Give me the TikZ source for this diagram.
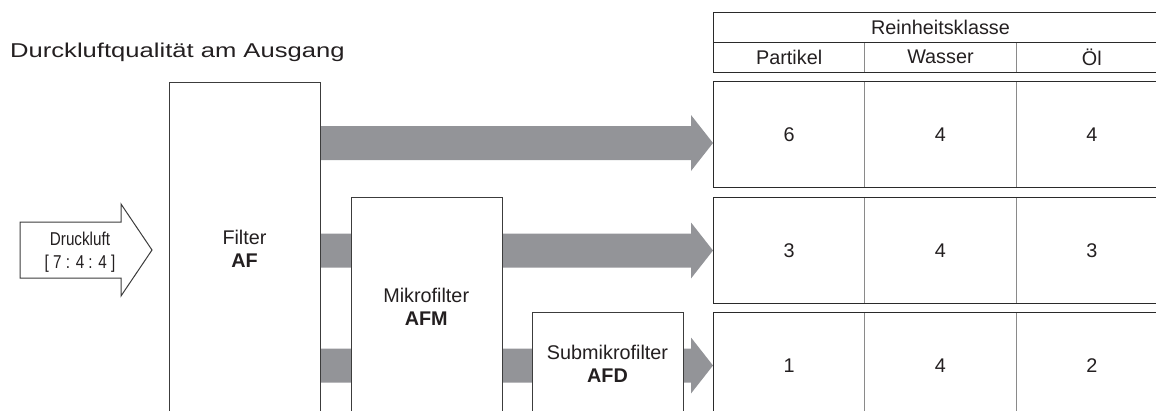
\documentclass[tikz,border=0pt]{standalone}
\usepackage{fontspec}
\setmainfont{Liberation Sans}
\usetikzlibrary{calc,backgrounds}
\definecolor{flowgray}{HTML}{939498}
\definecolor{boxline}{HTML}{3C3C3C}
\definecolor{cellline}{HTML}{8A8A8A}
\definecolor{outline}{HTML}{2A2A2A}
\definecolor{ink}{HTML}{231F20}
\tikzset{
  box/.style={draw=boxline, line width=1.1pt, fill=white, anchor=north west, inner sep=0pt},
  flow/.style={fill=flowgray, draw=none},
  txt/.style={font=\fontsize{19.8}{23}\selectfont, text=ink, align=center, inner sep=0pt, anchor=base},
  cell/.style={draw=cellline, line width=1pt, anchor=north west, inner sep=0pt, minimum width=151.3pt,
    font=\fontsize{19.8}{23}\selectfont, text=ink},
  rowframe/.style={draw=outline, line width=1.2pt, anchor=north west, inner sep=0pt, minimum width=454pt},
  inarrow/.style={draw=boxline, line width=1pt, fill=white, line join=miter},
}
\newcommand\flowarrow[2]{%
  \fill[flow] ($(#1)+(0,-17)$) -- ($(#2)+(-22,-17)$) -- ($(#2)+(-22,-28)$) -- (#2)
    -- ($(#2)+(-22,28)$) -- ($(#2)+(-22,17)$) -- ($(#1)+(0,17)$) -- cycle;}
\begin{document}
\begin{tikzpicture}[x=1pt,y=-1pt]
\useasboundingbox (0,0) rectangle (1156,410);
\clip (0,0) rectangle (1156,410);

% title
\node[anchor=base west, inner sep=0pt, font=\fontsize{20}{23}\selectfont, text=ink] (title) at (10,57)
  {\scalebox{1.28}[1]{Durckluftqualität am Ausgang}};

% filter boxes (open at the bottom: they run past the lower edge)
\node[box, minimum width=151pt, minimum height=345pt] (af) at (169,82) {};
\node[box, minimum width=151pt, minimum height=230pt] (afm) at (350.7,196.5) {};
\node[box, minimum width=151pt, minimum height=115pt] (afd) at (532,312) {};

% (base anchor = baseline of the last line)
\node[txt] (aft) at (244.5,267.7) {Filter\\\textbf{AF}};
\node[txt] (afmt) at (426.2,325.7) {Mikrofilter\\\textbf{AFM}};
\node[txt] (afdt) at (607.5,382.5) {Submikrofilter\\\textbf{AFD}};

% input arrow
\coordinate (intip) at (152,250);
\draw[inarrow] (20,222) -- (121,222) -- (121,204) -- (intip) -- (121,296) -- (121,278) -- (20,278) -- cycle;
\node[anchor=base, inner sep=0pt, font=\fontsize{18.6}{23}\selectfont, text=ink] (inl1) at (80,245)
  {\scalebox{0.82}[1]{Druckluft}};
\node[anchor=base, inner sep=0pt, font=\fontsize{18.6}{23}\selectfont, text=ink] (inl2) at (80,268)
  {\scalebox{0.82}[1]{[ 7 : 4 : 4 ]}};

% table header
\node[cell, minimum width=454pt, minimum height=30pt] (hdr) at (713,11.7) {Reinheitsklasse};
\node[cell, minimum height=30pt] (hp) at (713,41.7) {Partikel};
\node[cell, minimum height=30pt] (hw) at (864.3,41.7) {Wasser};
\node[cell, minimum height=30pt] (ho) at (1015.6,41.7) {Öl};
\node[rowframe, minimum height=60pt] (hframe) at (713,11.7) {};
\draw[draw=outline, line width=1.2pt] (hdr.south west) -- (hdr.south east);

% table rows
\node[cell, minimum height=106pt] (r1p) at (713,81) {6};
\node[cell, minimum height=106pt] (r1w) at (864.3,81) {4};
\node[cell, minimum height=106pt] (r1o) at (1015.6,81) {4};
\node[rowframe, minimum height=106pt] (r1) at (713,81) {};

\node[cell, minimum height=105.5pt] (r2p) at (713,197) {3};
\node[cell, minimum height=105.5pt] (r2w) at (864.3,197) {4};
\node[cell, minimum height=105.5pt] (r2o) at (1015.6,197) {3};
\node[rowframe, minimum height=105.5pt] (r2) at (713,197) {};

\node[cell, minimum height=107pt] (r3p) at (713,312) {1};
\node[cell, minimum height=107pt] (r3w) at (864.3,312) {4};
\node[cell, minimum height=107pt] (r3o) at (1015.6,312) {2};
\node[rowframe, minimum height=107pt] (r3) at (713,312) {};

% flow arrows (behind the filter boxes)
\begin{pgfonlayer}{background}
  \coordinate (s1) at (af.north east |- 0,143);
  \coordinate (e1) at (r1.north west |- 0,143);
  \coordinate (s2) at (af.north east |- 0,250.5);
  \coordinate (e2) at (r2.north west |- 0,250.5);
  \coordinate (s3) at (af.north east |- 0,365.5);
  \coordinate (e3) at (r3.north west |- 0,365.5);
  \flowarrow{s1}{e1}
  \flowarrow{s2}{e2}
  \flowarrow{s3}{e3}
\end{pgfonlayer}
\end{tikzpicture}
\end{document}
